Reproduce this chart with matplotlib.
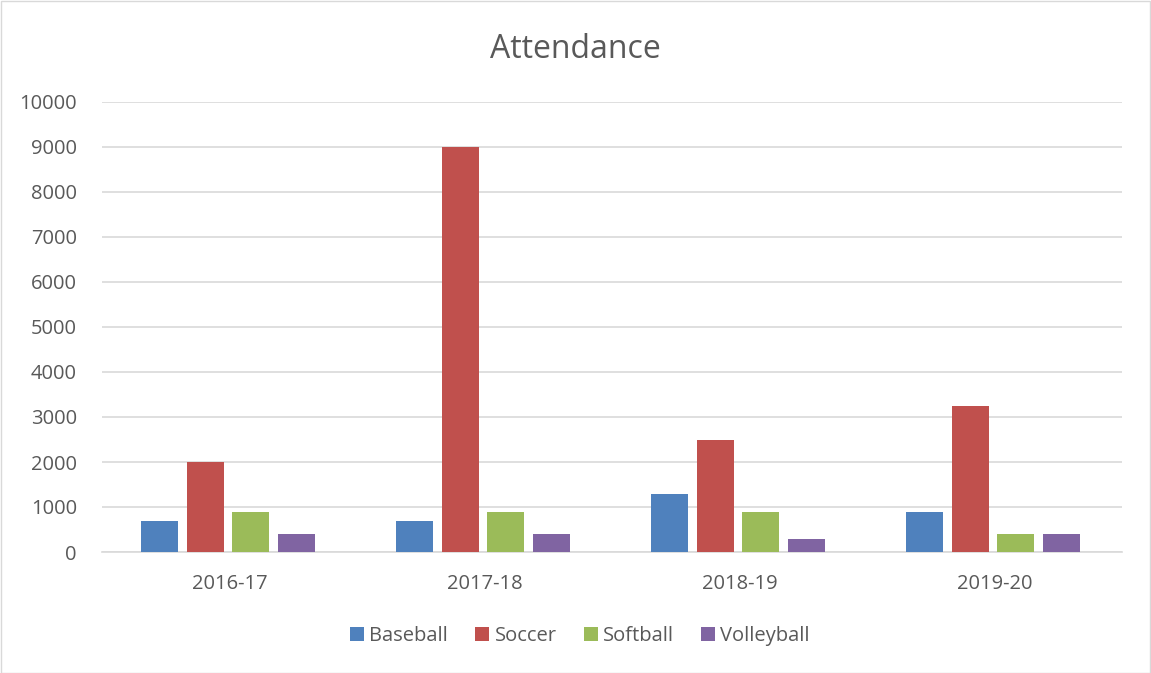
import matplotlib
matplotlib.use("Agg")
import matplotlib.pyplot as plt
import numpy as np
from matplotlib.patches import Rectangle

categories = ["2016-17", "2017-18", "2018-19", "2019-20"]
series_names = ["Baseball", "Soccer", "Softball", "Volleyball"]
baseball = [700, 700, 1300, 900]
soccer = [2000, 9000, 2500, 3250]
softball = [900, 900, 900, 400]
volleyball = [400, 400, 300, 400]
yticks = [0, 1000, 2000, 3000, 4000, 5000, 6000, 7000, 8000, 9000, 10000]

colors = ["#4F81BD", "#C0504D", "#9BBB59", "#8064A2"]
text_color = "#595959"
plt.rcParams['font.family'] = ['Open Sans', 'DejaVu Sans']

W, H = 1151, 673
fig = plt.figure(figsize=(W / 100, H / 100), dpi=100)
ax = fig.add_axes([102 / W, 1 - 552 / H, (1122 - 102) / W, (552 - 102) / H])

x = np.arange(len(categories))
data = [baseball, soccer, softball, volleyball]
pitch = 0.18
width = 0.145
shift = -0.006
for i, (name, vals) in enumerate(zip(series_names, data)):
    ax.bar(x + (i - 1.5) * pitch + shift, vals, width, color=colors[i], label=name,
           linewidth=0, zorder=3)

ax.set_xlim(-0.5, len(categories) - 0.5)
ax.set_ylim(0, 10000)
ax.set_yticks(yticks)
ax.set_yticklabels([str(t) for t in yticks])
ax.set_xticks(x)
ax.set_xticklabels(categories)
ax.yaxis.grid(True, color="#D9D9D9", linewidth=1.2, zorder=0)
ax.set_axisbelow(True)
for s in ["top", "right", "left"]:
    ax.spines[s].set_visible(False)
ax.spines["bottom"].set_color("#D9D9D9")
ax.spines["bottom"].set_linewidth(1.2)
ax.tick_params(axis="both", length=0, colors=text_color, labelsize=14.5)
ax.tick_params(axis="y", pad=18)
ax.tick_params(axis="x", pad=16)

fig.text(575 / W, 1 - 49 / H, "Attendance", ha="center", va="center",
         fontsize=23, color=text_color)

leg = fig.legend(loc="center", bbox_to_anchor=(580 / W, 1 - 636 / H), ncol=4,
                 frameon=False, fontsize=14.5, handlelength=0.7, handleheight=0.7,
                 handletextpad=0.25, columnspacing=1.35, labelcolor=text_color)

fig.patches.append(Rectangle((0.5 / W, 0.5 / H), 1 - 1.5 / W, 1 - 1.5 / H,
                             transform=fig.transFigure, fill=False,
                             edgecolor="#D9D9D9", linewidth=1))

fig.savefig("out.png", dpi=100)
